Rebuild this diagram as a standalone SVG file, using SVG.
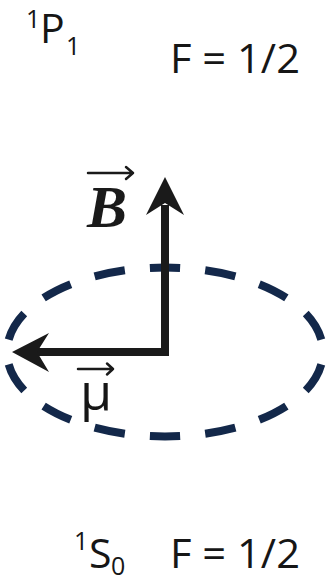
<svg xmlns="http://www.w3.org/2000/svg" width="334" height="582" viewBox="0 0 334 582">
<style>
.t{font-family:"Open Sans","Liberation Sans",sans-serif;fill:#161616}
.big{font-size:41px}
.sm{font-size:25px}
.shaft{fill:none;stroke:#1a1a1a;stroke-width:8;stroke-linejoin:miter}
.head{fill:#1a1a1a}
.ov{fill:none;stroke:#1a1a1a;stroke-width:2.5;stroke-linecap:round;stroke-linejoin:round}
</style>
<rect width="334" height="582" fill="#fff"/>
<g id="label-1P1">
<text class="t sm" x="26" y="28">1</text>
<text class="t big" x="40" y="43">P</text>
<text class="t sm" x="66" y="55">1</text>
</g>
<g id="label-F-top">
<text class="t big" x="170" y="73" textLength="130" lengthAdjust="spacingAndGlyphs">F = 1/2</text>
</g>
<g id="orbit">
<ellipse cx="165" cy="352" rx="158" ry="84.5" fill="none" stroke="#13284a" stroke-width="8" pathLength="14" stroke-dasharray="0.55 0.45" stroke-dashoffset="0.775"/>
</g>
<g id="connectors">
<path class="shaft" d="M165 205 V352 H35"/>
<polygon class="head" points="165,177 184,215 165,203 146,215"/>
<polygon class="head" points="12,352 49,333 37,352 49,372"/>
</g>
<g id="label-B">
<text x="87" y="227" style="font-family:'Liberation Serif','Times New Roman',serif;font-weight:bold;font-style:italic;font-size:60px;fill:#1a1a1a">B</text>
<path class="ov" d="M88 173 H133 M126 167 L133 173 L126 179"/>
</g>
<g id="label-mu">
<text class="t" x="80" y="410" style="font-size:52px">μ</text>
<path class="ov" d="M78 369 H113 M107 363.5 L113 369 L107 374.5"/>
</g>
<g id="label-1S0">
<text class="t sm" x="74" y="550">1</text>
<text class="t big" x="89" y="568">S</text>
<text class="t sm" x="111" y="575">0</text>
</g>
<g id="label-F-bottom">
<text class="t big" x="170" y="568" textLength="130" lengthAdjust="spacingAndGlyphs">F = 1/2</text>
</g>
</svg>
